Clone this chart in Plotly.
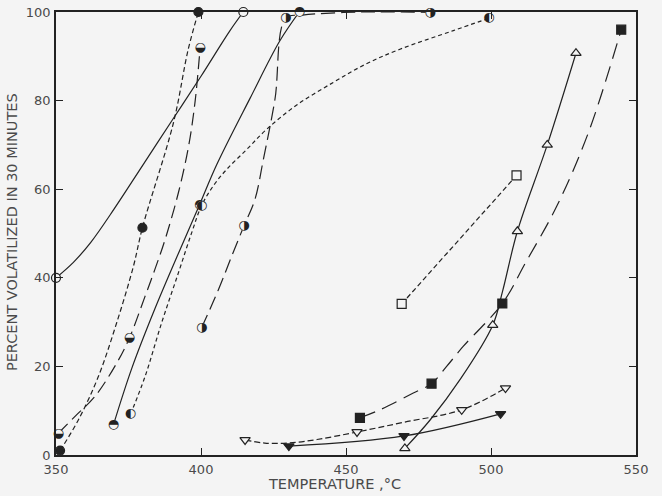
import plotly.graph_objects as go

# ---- data (temperature in deg C, percent volatilized) ----
# open circles, solid curve
oc_t = [350, 414.6]
oc_v = [40, 100]
oc_curve_t = [350, 356, 362, 370, 380, 390, 400, 410, 414.6]
oc_curve_v = [40, 43.5, 48, 55.5, 65.5, 75.5, 85.5, 95.8, 100]

# filled circles, short dashes
fc_t = [351.4, 379.8, 399.1]
fc_v = [1, 51.3, 100]
fc_curve_t = [351.4, 357.7, 364.6, 370.9, 376.7, 379.8, 390.5, 395.6, 399.1]
fc_curve_v = [1, 7.9, 17.7, 29.8, 42.6, 51.3, 75, 91.6, 100]

# lower-half filled circles, long dashes
lh_t = [350.8, 375.3, 399.7]
lh_v = [4.9, 26.4, 92]
lh_curve_t = [350.8, 357, 363.4, 370.9, 375.3, 380.7, 384.1, 387.6, 392.2, 395.8, 398, 399.7]
lh_curve_v = [4.9, 9, 13.2, 20.7, 26.4, 35.8, 41.9, 48.6, 59.2, 70, 80, 92]

# upper-half filled circles, solid curve
uh_t = [369.8, 399.5, 433.9]
uh_v = [6.8, 56.5, 100]
uh_curve_t = [369.8, 376.1, 384.1, 392.2, 399.5, 405.4, 416.9, 427.2, 433.9]
uh_curve_v = [6.8, 19.5, 33, 45.5, 56.5, 65.5, 80.5, 93.5, 100]

# right-half filled circles, long dashes
rh_t = [400.2, 414.8, 429.2, 479]
rh_v = [28.7, 51.7, 98.6, 99.9]
rh_curve_t = [400.2, 406, 410.6, 414.8, 418.6, 421.5, 425.5, 429.2, 435, 455, 479]
rh_curve_v = [28.7, 37.3, 44.9, 51.7, 57.7, 66.7, 80.3, 98.6, 99.3, 100, 99.9]

# left-half filled circles, fine dashes
lf_t = [375.7, 400.2, 499.3]
lf_v = [9.2, 56.3, 98.6]
lf_curve_t = [375.7, 380.7, 386.4, 392.2, 396.8, 400.2, 404.5, 408.9, 415.8, 422.6,
              433, 445.6, 457, 468.6, 487, 499.3]
lf_curve_v = [9.2, 17.7, 29.8, 41.1, 50.2, 56.3, 61, 64.5, 69, 73.5,
              79, 84.1, 88.3, 91.6, 95.8, 98.6]

# open squares, dashed
os_t = [469.2, 508.8]
os_v = [34.1, 63.1]

# open up-triangles, solid curve
ut_t = [470.3, 500.6, 509.1, 519.4, 529.3]
ut_v = [1.5, 29.3, 50.5, 70, 90.7]
ut_curve_t = [470.3, 479, 489.3, 500.6, 504, 509.1, 519.4, 529.3]
ut_curve_v = [1.5, 7.9, 17, 29.3, 37, 50.5, 70, 90.7]

# filled squares, long dashes
fs_t = [454.8, 479.5, 503.9, 544.9]
fs_v = [8.4, 16.1, 34.2, 96]
fs_curve_t = [454.8, 461.7, 473.2, 479.5, 484.7, 490.4, 503.9, 512, 522.7, 533.6, 544.9]
fs_curve_v = [8.4, 10.2, 14, 16.1, 20, 24.5, 34.2, 43.5, 56.2, 72.8, 96]

# open down-triangles, dashed curve
dt_t = [415.2, 453.8, 489.9, 505]
dt_v = [3.4, 5.2, 10.2, 15.1]
dt_curve_t = [415.2, 422, 430, 440, 453.8, 470, 489.9, 505]
dt_curve_v = [3.4, 2.7, 2.7, 3.5, 5.2, 7.4, 10.2, 15.1]

# filled down-triangles, solid
fd_t = [430.3, 470, 503.3]
fd_v = [2, 4.3, 9.3]

x_ticks = [350, 400, 450, 500, 550]
y_ticks = [0, 20, 40, 60, 80, 100]

INK = "#222222"
BG = "#f4f4f4"
TXT = "#4a4a4a"

fig = go.Figure()


def add_line(t, v, dash):
    fig.add_trace(go.Scatter(x=t, y=v, mode="lines", line_shape="spline",
                             line=dict(color=INK, width=1.2, dash=dash),
                             hoverinfo="skip", cliponaxis=False))


def add_markers(t, v, symbol, fill):
    fig.add_trace(go.Scatter(x=t, y=v, mode="markers", cliponaxis=False,
                             marker=dict(symbol=symbol, size=9, color=fill,
                                         line=dict(color=INK, width=1.2))))


def add_half(t, v, glyph):
    # background disc underneath so the lines do not show through
    fig.add_trace(go.Scatter(x=t, y=v, mode="markers", cliponaxis=False,
                             marker=dict(symbol="circle", size=9, color=BG,
                                         line=dict(width=0))))
    fig.add_trace(go.Scatter(x=t, y=v, mode="text", text=[glyph] * len(t),
                             textposition="middle center", cliponaxis=False,
                             textfont=dict(family="DejaVu Sans", size=13, color=INK)))


add_line(oc_curve_t, oc_curve_v, "solid")
add_line(fc_curve_t, fc_curve_v, "5px,3px")
add_line(lh_curve_t, lh_curve_v, "13px,6px")
add_line(uh_curve_t, uh_curve_v, "solid")
add_line(rh_curve_t, rh_curve_v, "14px,6px")
add_line(lf_curve_t, lf_curve_v, "4px,3px")
add_line(os_t, os_v, "5px,3px")
add_line(ut_curve_t, ut_curve_v, "solid")
add_line(fs_curve_t, fs_curve_v, "16px,8px")
add_line(dt_curve_t, dt_curve_v, "6px,3px")
add_line(fd_t, fd_v, "solid")

add_markers(oc_t, oc_v, "circle", BG)
add_markers(fc_t, fc_v, "circle", INK)
add_markers(os_t, os_v, "square", BG)
add_markers(fs_t, fs_v, "square", INK)
add_markers(ut_t, ut_v, "triangle-up", BG)
add_markers(dt_t, dt_v, "triangle-down", BG)
add_markers(fd_t, fd_v, "triangle-down", INK)
add_half(lh_t, lh_v, "\u25D2")
add_half(uh_t, uh_v, "\u25D3")
add_half(rh_t, rh_v, "\u25D1")
add_half(lf_t, lf_v, "\u25D0")

axis_common = dict(showline=True, linecolor=INK, linewidth=1.5, mirror="ticks",
                   ticks="inside", ticklen=7, tickwidth=1, tickcolor=INK,
                   showgrid=False, zeroline=False, automargin=False,
                   tickfont=dict(family="DejaVu Sans", size=13, color=TXT))

fig.update_layout(
    width=662, height=496,
    margin=dict(l=56, r=26, t=12, b=41),
    paper_bgcolor=BG, plot_bgcolor=BG,
    showlegend=False,
    xaxis=dict(range=[350, 550], tickvals=x_ticks, ticklabelstandoff=2, **axis_common),
    yaxis=dict(range=[0, 100], tickvals=y_ticks, ticklabelstandoff=1, **axis_common),
    annotations=[
        dict(text="TEMPERATURE ,°C", xref="paper", yref="paper", x=0.481, y=-0.044,
             xanchor="center", yanchor="top", showarrow=False,
             font=dict(family="DejaVu Sans", size=14.5, color=TXT)),
        dict(text="PERCENT VOLATILIZED IN 30 MINUTES", xref="paper", yref="paper",
             x=-0.076, y=0.503, textangle=-90, xanchor="center", yanchor="middle",
             showarrow=False, font=dict(family="DejaVu Sans", size=14.5, color=TXT)),
    ],
)

fig.write_html("out.html", config={"displayModeBar": False},
               post_script="document.body.style.margin='0';")
